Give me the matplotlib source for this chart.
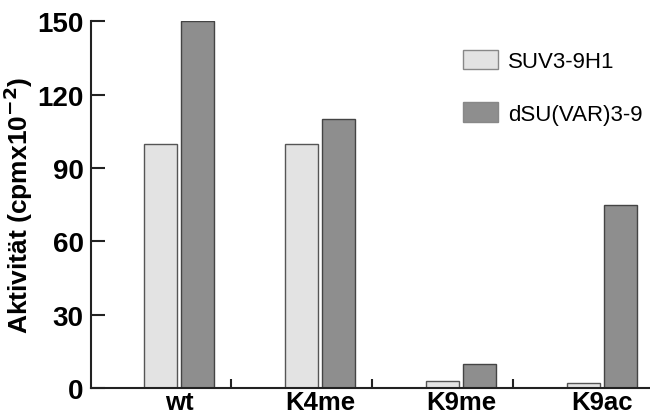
import numpy as np
import matplotlib
matplotlib.use("Agg")
import matplotlib.pyplot as plt

# values
groups = ["wt", "K4me", "K9me", "K9ac"]
suv39h1 = [100, 100, 3, 2]
dsuvar39 = [150, 110, 10, 75]
series_names = ["SUV3-9H1", "dSU(VAR)3-9"]
y_ticks = [0, 30, 60, 90, 120, 150]

plt.rcParams["font.family"] = ["Liberation Sans", "DejaVu Sans"]

fig = plt.figure(figsize=(6.5, 4.14), dpi=100)
ax = fig.add_axes([0.1395, 0.0597, 0.8605, 0.8865])

x = np.arange(len(groups))
w = 0.238
ax.bar(x - 0.131, suv39h1, width=w, color="#e3e3e3", edgecolor="#555555",
       linewidth=1, label=series_names[0])
ax.bar(x + 0.131, dsuvar39, width=w, color="#8e8e8e", edgecolor="#444444",
       linewidth=1, label=series_names[1])

ax.set_xlim(-0.626, 3.34)
ax.set_ylim(0, 150)
ax.set_yticks(y_ticks)
ax.set_xticks(x)
ax.set_xticklabels(groups, fontsize=18.5, fontweight="bold")
ax.set_xticks(x[:-1] + 0.37, minor=True)
ax.tick_params(axis="x", which="major", length=0, pad=1)
ax.tick_params(axis="x", which="minor", direction="in", length=6.5, width=1.5, color="#222222")
ax.tick_params(axis="y", direction="in", length=10, width=1.5, color="#222222",
               labelsize=20, pad=5)
for lbl in ax.get_yticklabels():
    lbl.set_fontweight("bold")

for side in ["top", "right"]:
    ax.spines[side].set_visible(False)
for side in ["left", "bottom"]:
    ax.spines[side].set_linewidth(1.5)
    ax.spines[side].set_color("#222222")

ax.set_ylabel("Aktivität (cpmx10$^{\\mathbf{-2}}$)", fontsize=19, fontweight="bold", labelpad=2)

leg = ax.legend(loc="upper left", bbox_to_anchor=(0.712, 0.878), bbox_transform=fig.transFigure,
                frameon=False, fontsize=16, handlelength=1.6, handleheight=1.0,
                labelspacing=1.35, handletextpad=0.45, borderpad=0, borderaxespad=0)
for p in leg.get_patches():
    p.set_edgecolor("#888888")

fig.savefig("out.png", dpi=100)
